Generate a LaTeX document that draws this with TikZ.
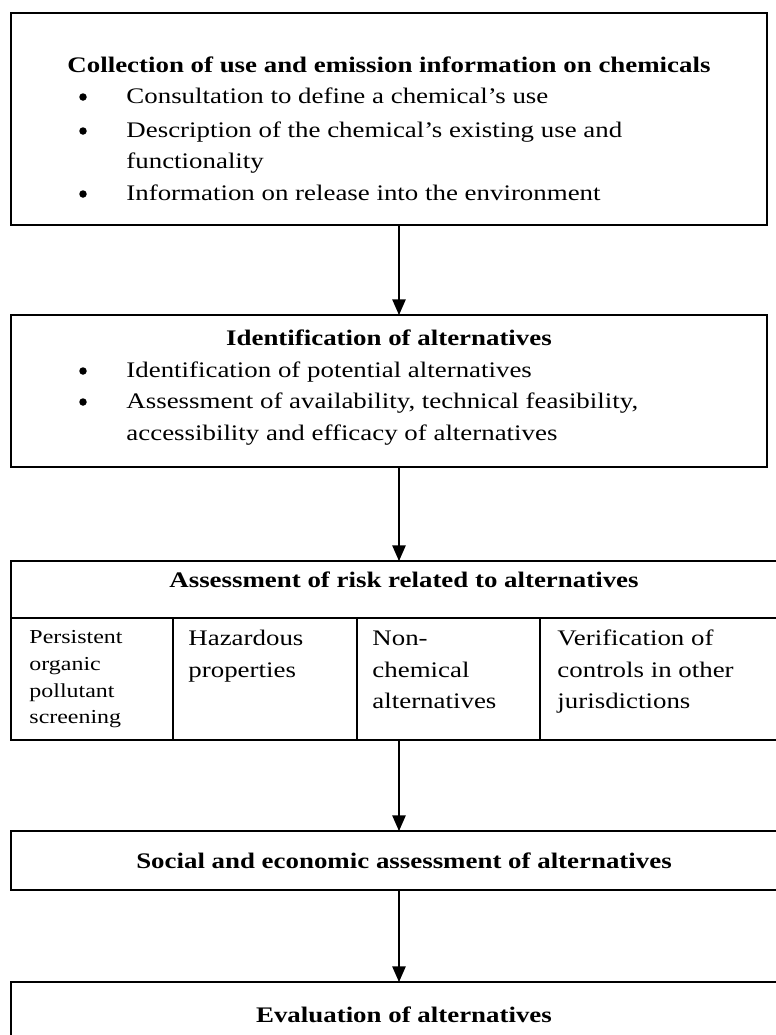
\documentclass[tikz,border=0pt]{standalone}
\usepackage{fontspec}
\setmainfont{Liberation Serif}[FakeStretch=1.21]
\usepackage{tikz}
\usetikzlibrary{arrows.meta}
\newcommand{\pxu}{0.45pt}

\begin{document}
\begin{tikzpicture}[x=\pxu, y=-\pxu,
        % Define the styles for boxes, texts and the flow arrows
        frame/.style={draw, line width=0.8pt, anchor=north west, inner sep=0pt, outer sep=0pt},
        heading/.style={font=\bfseries, anchor=base, inner sep=0pt},
        entry/.style={anchor=base west, inner sep=0pt},
        dot/.style={circle, fill, inner sep=0pt, minimum size=7.5*\pxu},
        smallentry/.style={entry, font=\fontsize{8.9}{12}\selectfont},
        flow/.style={line width=0.6pt, -{Triangle[width=6pt, length=7pt]}}
    ]
        \useasboundingbox (0,0) rectangle (776,1035);
        \clip (0,0) rectangle (776,1035);
        \coordinate (spine) at (399,0);

        % --- Collection of use and emission information ---
        \node (collect) [frame, minimum width=756*\pxu, minimum height=212*\pxu] at (11,13) {};
        \node (collect_t) [heading] at (389,72) {Collection of use and emission information on chemicals};
        \node (collect_d1) [dot] at (83,97) {};
        \node (collect_l1) [entry] at (126,103) {Consultation to define a chemical’s use};
        \node (collect_d2) [dot] at (83,131) {};
        \node (collect_l2) [entry] at (126,137) {Description of the chemical’s existing use and};
        \node (collect_l3) [entry] at (126,168) {functionality};
        \node (collect_d3) [dot] at (83,194) {};
        \node (collect_l4) [entry] at (126,200) {Information on release into the environment};

        % --- Identification of alternatives ---
        \node (ident) [frame, minimum width=756*\pxu, minimum height=152*\pxu] at (11,315) {};
        \node (ident_t) [heading] at (389,345) {Identification of alternatives};
        \node (ident_d1) [dot] at (83,371) {};
        \node (ident_l1) [entry] at (126,377) {Identification of potential alternatives};
        \node (ident_d2) [dot] at (83,402) {};
        \node (ident_l2) [entry] at (126,408) {Assessment of availability, technical feasibility,};
        \node (ident_l3) [entry] at (126,440) {accessibility and efficacy of alternatives};

        % --- Assessment of risk: header and four cells ---
        \node (risk) [frame, minimum width=786*\pxu, minimum height=57*\pxu] at (11,561) {};
        \node (risk_t) [heading] at (404,587) {Assessment of risk related to alternatives};
        \node (cella) [frame, minimum width=162*\pxu, minimum height=122*\pxu] at (11,618) {};
        \node (cellb) [frame, minimum width=184*\pxu, minimum height=122*\pxu] at (173,618) {};
        \node (cellc) [frame, minimum width=183*\pxu, minimum height=122*\pxu] at (357,618) {};
        \node (celld) [frame, minimum width=257*\pxu, minimum height=122*\pxu] at (540,618) {};

        \node (cella_1) [smallentry] at (29,643) {Persistent};
        \node (cella_2) [smallentry] at (29,670) {organic};
        \node (cella_3) [smallentry] at (29,697) {pollutant};
        \node (cella_4) [smallentry] at (29,723) {screening};

        \node (cellb_1) [entry] at (188,645) {Hazardous};
        \node (cellb_2) [entry] at (188,677) {properties};

        \node (cellc_1) [entry] at (372,645) {Non-};
        \node (cellc_2) [entry] at (372,677) {chemical};
        \node (cellc_3) [entry] at (372,708) {alternatives};

        \node (celld_1) [entry] at (557,645) {Verification of};
        \node (celld_2) [entry] at (557,677) {controls in other};
        \node (celld_3) [entry] at (557,708) {jurisdictions};

        % --- Social and economic assessment, evaluation ---
        \node (social) [frame, minimum width=786*\pxu, minimum height=59*\pxu] at (11,831) {};
        \node (social_t) [heading] at (404,868) {Social and economic assessment of alternatives};

        \node (evalu) [frame, minimum width=786*\pxu, minimum height=90*\pxu] at (11,982) {};
        \node (evalu_t) [heading] at (404,1022) {Evaluation of alternatives};

        % --- Arrows between the stages ---
        \draw[flow] (collect.south -| spine) -- (ident.north -| spine);
        \draw[flow] (ident.south -| spine) -- (risk.north -| spine);
        \draw[flow] (cellc.south -| spine) -- (social.north -| spine);
        \draw[flow] (social.south -| spine) -- (evalu.north -| spine);

    \end{tikzpicture}
\end{document}
